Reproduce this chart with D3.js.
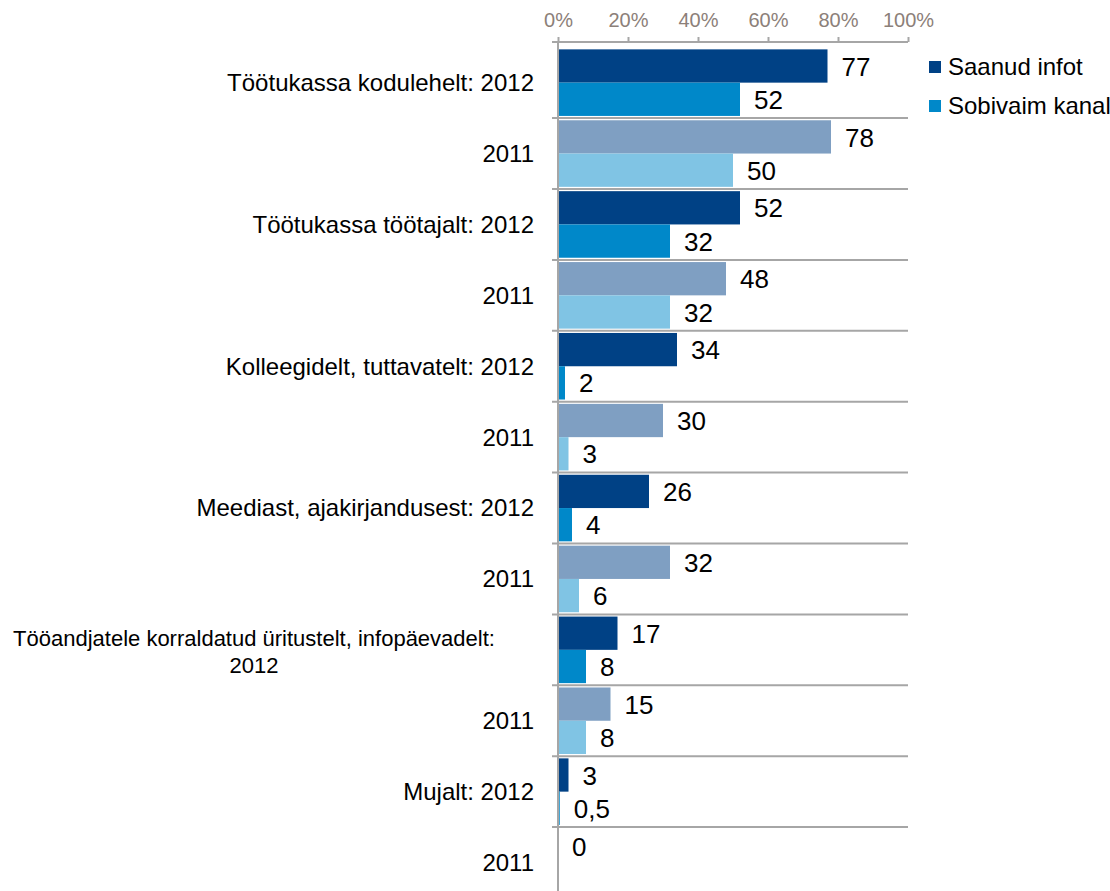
<!DOCTYPE html>
<html>
<head>
<meta charset="utf-8">
<script src="https://cdn.jsdelivr.net/npm/d3@7"></script>
<style>
  body { margin: 0; background: #fff; }
  text { font-family: Arial, "Liberation Sans", sans-serif; }
</style>
</head>
<body>
<div id="chart"></div>
<script>
var categories = [
    "Töötukassa kodulehelt: 2012", "2011",
    "Töötukassa töötajalt: 2012", "2011",
    "Kolleegidelt, tuttavatelt: 2012", "2011",
    "Meediast, ajakirjandusest: 2012", "2011",
    "Tööandjatele korraldatud üritustelt, infopäevadelt:|2012", "2011",
    "Mujalt: 2012", "2011"
];
var years = [2012, 2011, 2012, 2011, 2012, 2011, 2012, 2011, 2012, 2011, 2012, 2011];
var saanudInfot = [77, 78, 52, 48, 34, 30, 26, 32, 17, 15, 3, 0];
var sobivaimKanal = [52, 50, 32, 32, 2, 3, 4, 6, 8, 8, 0.5, null];
var seriesNames = ["Saanud infot", "Sobivaim kanal"];
var xTicks = [0, 20, 40, 60, 80, 100];

var width = 1110, height = 891;
var x0 = 558, x1 = 908, axisY = 42;
var colors = {
    2012: ["#004185", "#0088c9"],
    2011: ["#7f9fc2", "#80c4e4"]
};

var svg = d3.select("#chart")
    .append("svg")
        .attr("width", width)
        .attr("height", height);

var x = d3.scaleLinear().domain([0, 100]).range([x0, x1]);
var y = d3.scaleBand().domain(d3.range(categories.length)).range([47.2, 47.2 + 12 * 70.9]);
var sub = d3.scaleBand().domain([0, 1]).range([0, y.bandwidth()]).paddingOuter(0.065);

// separators between categories
svg.append("g")
    .selectAll("line")
    .data(d3.range(1, categories.length))
    .enter()
    .append("line")
        .attr("x1", x0 - 6)
        .attr("x2", x1)
        .attr("y1", function(i){ return y(i); })
        .attr("y2", function(i){ return y(i); })
        .attr("stroke", "#a6a6a6")
        .attr("stroke-width", 2);

// top axis
var xAxis = svg.append("g")
    .attr("transform", "translate(0," + axisY + ")")
    .call(d3.axisTop(x).tickValues(xTicks).tickSize(5).tickPadding(10).tickFormat(function(d){ return d + "%"; }));
xAxis.select(".domain").remove();
xAxis.selectAll(".tick line").attr("stroke", "#a6a6a6").attr("stroke-width", 2);
xAxis.selectAll(".tick text")
    .attr("fill", "#8c8079")
    .attr("font-size", "20px")
    .attr("font-family", "Arial, 'Liberation Sans', sans-serif");

svg.append("line")
    .attr("x1", x0 - 6).attr("x2", x1)
    .attr("y1", axisY).attr("y2", axisY)
    .attr("stroke", "#a6a6a6").attr("stroke-width", 2);

svg.append("line")
    .attr("x1", x0).attr("x2", x0)
    .attr("y1", axisY).attr("y2", height)
    .attr("stroke", "#a6a6a6").attr("stroke-width", 2);

// bars
var rows = d3.range(categories.length).map(function(i){
    return { i: i, year: years[i], vals: [saanudInfot[i], sobivaimKanal[i]] };
});

var rowG = svg.append("g")
    .selectAll("g")
    .data(rows)
    .enter()
    .append("g")
        .attr("transform", function(d){ return "translate(0," + y(d.i) + ")"; });

var items = rowG.selectAll("g")
    .data(function(d){
        return d.vals.map(function(v, k){ return { v: v, k: k, year: d.year }; })
                     .filter(function(e){ return e.v !== null; });
    })
    .enter()
    .append("g");

items.append("rect")
    .attr("x", x0 + 1)
    .attr("y", function(d){ return sub(d.k); })
    .attr("width", function(d){ return Math.max(0, x(d.v) - x0 - 1); })
    .attr("height", sub.bandwidth())
    .attr("fill", function(d){ return colors[d.year][d.k]; });

items.append("text")
    .attr("x", function(d){ return x(d.v) + 14; })
    .attr("y", function(d){ return sub(d.k) + sub.bandwidth() / 2 + 0.5; })
    .attr("dy", "0.35em")
    .attr("font-size", "26px")
    .attr("fill", "#000")
    .text(function(d){ return String(d.v).replace(".", ","); });

// category labels
svg.append("g")
    .selectAll("text")
    .data(categories)
    .enter()
    .append("text")
        .attr("fill", "#000")
        .each(function(d, i){
            var t = d3.select(this);
            var lines = d.split("|");
            var cy = y(i) + y.bandwidth() / 2;
            if (lines.length === 1) {
                t.attr("x", 534).attr("y", cy).attr("dy", "0.35em")
                 .attr("font-size", "24px")
                 .attr("text-anchor", "end").text(d);
            } else {
                t.attr("text-anchor", "middle").attr("font-size", "22px");
                lines.forEach(function(l, j){
                    t.append("tspan")
                        .attr("x", 254)
                        .attr("y", cy + 1.5 + (j - (lines.length - 1) / 2) * 27)
                        .attr("dy", "0.35em")
                        .text(l);
                });
            }
        });

// legend
var legend = svg.append("g")
    .selectAll("g")
    .data(seriesNames)
    .enter()
    .append("g")
        .attr("transform", function(d, k){ return "translate(929," + (67 + k * 39) + ")"; });

legend.append("rect")
    .attr("x", 0).attr("y", -6)
    .attr("width", 12).attr("height", 12)
    .attr("fill", function(d, k){ return colors[2012][k]; });

legend.append("text")
    .attr("x", 19)
    .attr("dy", "0.35em")
    .attr("font-size", "24px")
    .attr("fill", "#000")
    .text(function(d){ return d; });
</script>
</body>
</html>
